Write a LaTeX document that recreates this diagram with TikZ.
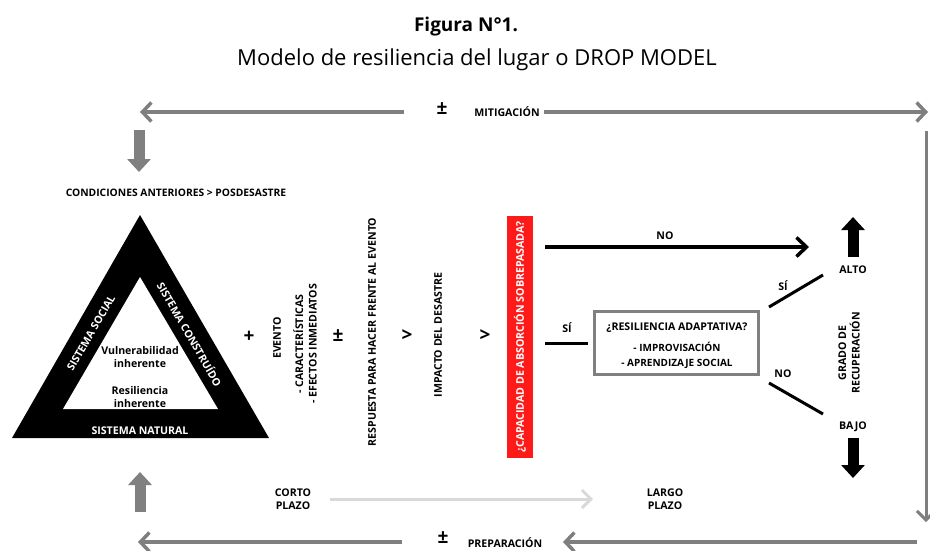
\documentclass[tikz,border=0pt]{standalone}
\usepackage{fontspec}
\setmainfont{Open Sans}
\usetikzlibrary{arrows.meta}
\definecolor{arrgray}{HTML}{7F7F7F}
\definecolor{lightarr}{HTML}{D9D9D9}
\definecolor{boxred}{HTML}{FF1A1A}
\definecolor{boxgray}{HTML}{808080}
\begin{document}
\begin{tikzpicture}[x=1pt,y=-1pt,
  lbl/.style={font=\fontsize{10.6}{13.5}\selectfont\bfseries, inner sep=0pt, align=center},
  wlbl/.style={lbl, text=white},
  sym/.style={font=\fontsize{19}{19}\selectfont\bfseries, inner sep=0pt},
  grayline/.style={draw=arrgray, line width=3.5pt},
  barb/.style={-{Straight Barb[length=9pt,width=19pt]}},
  grayblock/.style={draw=boxgray, line width=11pt, -{Triangle[length=13pt,width=23pt]}},
  blackblock/.style={draw=black, line width=11pt, -{Triangle[length=13pt,width=23pt]}},
  diag/.style={draw=black, line width=3pt}
]
\useasboundingbox (0,0) rectangle (930,550);
\fill[white] (0,0) rectangle (930,550);

% title
\node[font=\fontsize{19}{19}\selectfont\bfseries, inner sep=0pt] (title) at (466,27) {Figura N°1.};
\node[font=\fontsize{22}{22}\selectfont, inner sep=0pt] (subtitle) at (477,60) {Modelo de resiliencia del lugar o DROP MODEL};

% top mitigation
\node[sym] (pmTop) at (442,109) {±};
\node[lbl] (mitig) at (507,112) {MITIGACIÓN};
\coordinate (topLa) at (404,112);
\coordinate (topLb) at (140,112);
\coordinate (topRa) at (544,112);
\coordinate (topRb) at (928,112);
\draw[grayline,barb] (topLa) -- (topLb);
\draw[grayline,barb] (topRa) -- (topRb);

% right vertical
\coordinate (rvT) at (926,131);
\coordinate (rvB) at (926,522);
\draw[draw=arrgray, line width=3pt, -{Straight Barb[length=9pt,width=18pt]}] (rvT) -- (rvB);

% bottom preparation
\node[sym] (pmBot) at (443,538) {±};
\node[lbl] (prep) at (505,543) {PREPARACIÓN};
\coordinate (botRa) at (917,542);
\coordinate (botRb) at (563,542);
\coordinate (botLa) at (402,542);
\coordinate (botLb) at (138,542);
\draw[grayline,barb] (botRa) -- (botRb);
\draw[grayline,barb] (botLa) -- (botLb);

% gray block arrows
\coordinate (gdT) at (139,130);
\coordinate (gdB) at (139,172);
\draw[grayblock] (gdT) -- (gdB);
\coordinate (guB) at (140,512);
\coordinate (guT) at (140,472);
\draw[grayblock] (guB) -- (guT);

\node[lbl, font=\fontsize{10.3}{13.5}\selectfont\bfseries] (cond) at (176,193) {CONDICIONES ANTERIORES > POSDESASTRE};

% triangle
\coordinate (tA) at (140,215);
\coordinate (tB) at (12,438);
\coordinate (tC) at (269,438);
\coordinate (iA) at (140,277);
\coordinate (iB) at (63,409);
\coordinate (iC) at (218,409);
\fill[black] (tA) -- (tB) -- (tC) -- cycle;
\fill[white] (iA) -- (iB) -- (iC) -- cycle;
\node[wlbl, rotate=60] (sSocial) at (91,333) {SISTEMA SOCIAL};
\node[wlbl, rotate=-60] (sConst) at (190,334) {SISTEMA CONSTRUÍDO};
\node[wlbl] (sNat) at (140,431) {SISTEMA NATURAL};
\node[lbl] (vuln) at (140,357) {Vulnerabilidad\\inherente};
\node[lbl] (resil) at (140,397) {Resiliencia\\inherente};

% middle sequence
\node[sym] (plus) at (249,337) {+};
\node[lbl, rotate=90] (evento) at (277,338) {EVENTO};
\node[lbl, rotate=90] (caract) at (305,344) {- CARACTERÍSTICAS\\- EFECTOS INMEDIATOS};
\node[sym] (pmMid) at (338,336) {±};
\node[lbl, rotate=90] (resp) at (372,332) {RESPUESTA PARA HACER FRENTE AL EVENTO};
\node[sym] (gt1) at (407,336) {>};
\node[lbl, rotate=90] (impacto) at (438,335) {IMPACTO DEL DESASTRE};
\node[sym] (gt2) at (485,336) {>};

% red box
\node[wlbl, rotate=90, fill=boxred, minimum width=242pt, minimum height=26pt] (capac) at (520,337) {¿CAPACIDAD DE ABSORCIÓN SOBREPASADA?};

% NO arrow
\coordinate (noA) at (545,247);
\coordinate (noB) at (809,247);
\draw[draw=black, line width=3.5pt, -{Straight Barb[length=10pt,width=19pt]}] (noA) -- (noB);
\node[lbl] (noTop) at (665,236) {NO};

% SI line
\coordinate (siA) at (545,343);
\coordinate (siB) at (588,343);
\draw[diag] (siA) -- (siB);
\node[lbl] (siLeft) at (567,328) {SÍ};

% adaptive box
\node[draw=boxgray, line width=3pt, minimum width=164pt, minimum height=63pt, inner sep=0pt] (adapt) at (676,342.5) {};
\node[lbl] (adaptT) at (677,328) {¿RESILIENCIA ADAPTATIVA?};
\node[lbl, font=\fontsize{10}{15}\selectfont\bfseries] (adaptL) at (677,355.5) {- IMPROVISACIÓN\\- APRENDIZAJE SOCIAL};

% diagonals
\coordinate (dSa) at (769,307);
\coordinate (dSb) at (823,275);
\draw[diag] (dSa) -- (dSb);
\node[lbl] (siRight) at (783,286) {SÍ};
\coordinate (dNa) at (769,383);
\coordinate (dNb) at (823,414);
\draw[diag] (dNa) -- (dNb);
\node[lbl] (noRight) at (783,374) {NO};

% right side
\coordinate (upB) at (853,257);
\coordinate (upT) at (853,217);
\draw[blackblock] (upB) -- (upT);
\node[lbl] (alto) at (853,270) {ALTO};
\node[lbl, rotate=90] (grado) at (849,353) {GRADO DE\\RECUPERACIÓN};
\node[lbl] (bajo) at (853,427) {BAJO};
\coordinate (dnT) at (853,438);
\coordinate (dnB) at (853,478);
\draw[blackblock] (dnT) -- (dnB);

% bottom plazo
\node[lbl] (corto) at (293,499) {CORTO\\PLAZO};
\node[lbl] (largo) at (665,499) {LARGO\\PLAZO};
\coordinate (lgA) at (330,499);
\coordinate (lgB) at (593,499);
\draw[draw=lightarr, line width=3pt, -{Straight Barb[length=9pt,width=18pt]}] (lgA) -- (lgB);
\end{tikzpicture}
\end{document}
